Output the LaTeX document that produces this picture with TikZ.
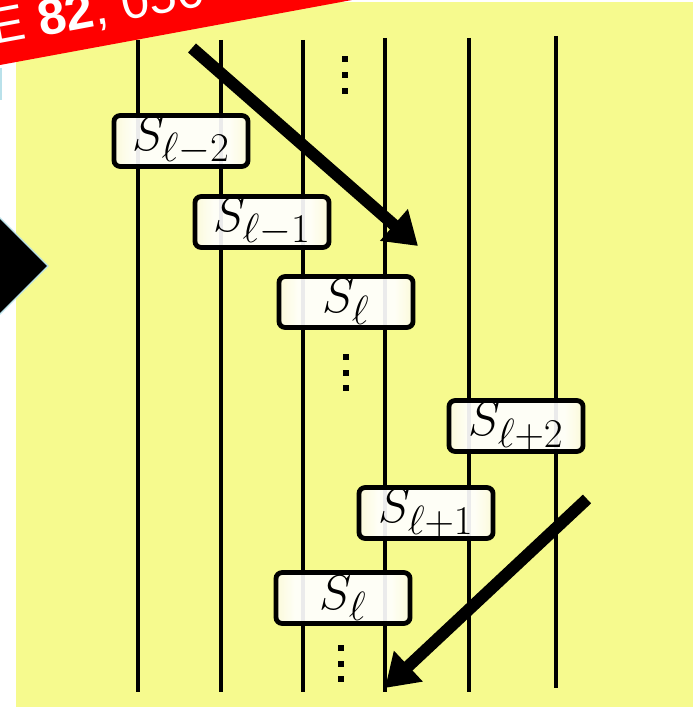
\documentclass[tikz,border=0pt]{standalone}
\usepackage{graphicx}
\usepackage{fontspec}
\newfontfamily\stampfont{Liberation Sans}
\usetikzlibrary{arrows.meta}
\definecolor{pad}{HTML}{F6FA8E}
\definecolor{glow}{HTML}{F5EF88}
\definecolor{stampred}{HTML}{FF0000}
\definecolor{edgeblue}{HTML}{B9E1EA}
\pgfdeclarehorizontalshading{boxglow}{100bp}{color(0bp)=(glow); color(4bp)=(glow); color(32bp)=(white); color(68bp)=(white); color(96bp)=(glow); color(100bp)=(glow)}
\newcommand{\stg}[1]{\scalebox{1.4}{\Huge$#1$}}
\tikzset{
  wire/.style={draw=black, line width=0.1cm},
  stage/.style={draw=black, line width=0.12cm, rounded corners=0.15cm, shading=boxglow,
                fill opacity=0.92, text opacity=1, minimum width=3.35cm, minimum height=1.27cm,
                inner sep=0pt},
  dotsq/.style={fill=black, minimum size=0.15cm, inner sep=0pt},
  sweep/.style={-{Triangle[length=0.8cm,width=1cm]}, line width=0.3cm, draw=black},
  stamptxt/.style={text=white, inner sep=0pt, font=\stampfont\fontsize{36}{40}\selectfont},
}

\begin{document}
\begin{tikzpicture}[x=0.025cm,y=-0.025cm]
  \useasboundingbox (0,0) rectangle (693,707);
  \clip (0,0) rectangle (693,707);
  % backdrop and the cut-off bits at the left
  \fill[pad] (16,2) rectangle (693,707);
  \fill[edgeblue] (0,68) rectangle (2,100);
  \filldraw[fill=black, draw=edgeblue, line width=0.8pt] (-10,208) -- (48,266) -- (-10,324) -- cycle;
  % red stamp
  \fill[stampred] (0,-5) -- (0,65) -- (352,0) -- (352,-5) -- cycle;
  \node[stamptxt, anchor=base west, rotate=10.5] (stamp) at (-6,45) {E \textbf{82}, 050};
  % the six wires
  \foreach \n/\x/\t/\b in {1/138/40/692, 2/221/40/692, 3/303/40/692, 4/385/38/692, 5/469/38/692, 6/556/36/688} {
    \coordinate (top\n) at (\x,\t);
    \coordinate (bot\n) at (\x,\b);
    \draw[wire] (top\n) -- (bot\n);
  }
  % sweep down
  \node[stage] (sm2) at (181,141) {\stg{S_{\ell-2}}};
  \node[stage] (sm1) at (262,222) {\stg{S_{\ell-1}}};
  \node[stage] (s0) at (346,302) {\stg{S_{\ell}}};
  % sweep back
  \node[stage] (sp2) at (516,426) {\stg{S_{\ell+2}}};
  \node[stage] (sp1) at (426,513) {\stg{S_{\ell+1}}};
  \node[stage] (s0b) at (343,598) {\stg{S_{\ell}}};
  % dots
  \foreach \k/\x/\y in {1/345/59, 2/345/75, 3/345/91, 4/346/357, 5/346/373, 6/346/388, 7/341/648, 8/341/664, 9/341/679}
    \node[dotsq] (dot\k) at (\x,\y) {};
  % arrows
  \coordinate (fwdA) at (192,48);
  \coordinate (fwdB) at (418,246);
  \draw[sweep] (fwdA) -- (fwdB);
  \coordinate (bwdA) at (587,499);
  \coordinate (bwdB) at (385,688);
  \draw[sweep] (bwdA) -- (bwdB);
\end{tikzpicture}
\end{document}
